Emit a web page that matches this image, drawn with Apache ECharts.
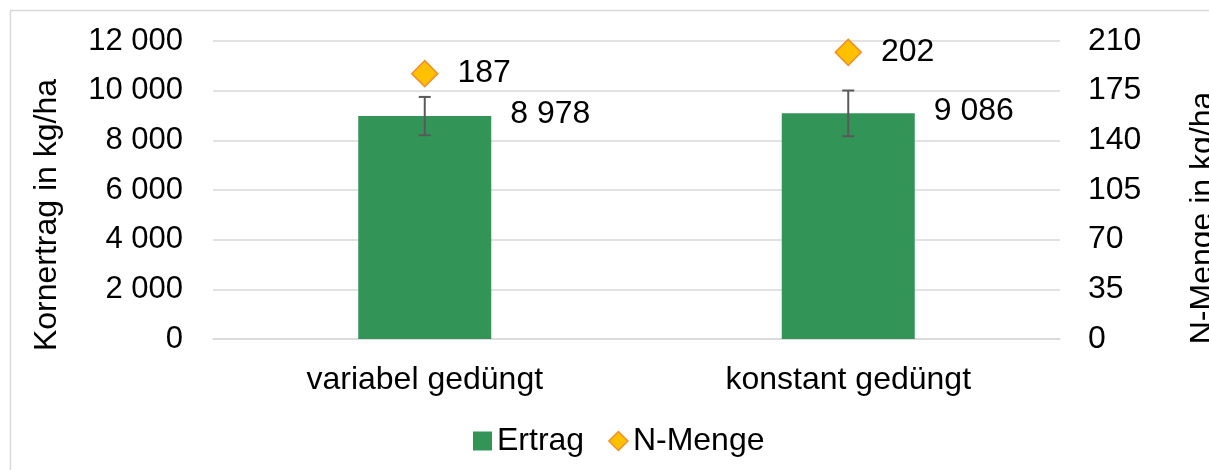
<!DOCTYPE html>
<html>
<head>
    <meta charset="utf-8">
    <title>Kornertrag</title>
    <script type="text/javascript" src="https://cdn.jsdelivr.net/npm/echarts@6/dist/echarts.min.js"></script>
    <style>
        html, body { margin: 0; padding: 0; background: #fff; }
    </style>
</head>
<body>
<div id="bar" style="width:1209px;height:470px;"></div>

<script type="text/javascript">
    // Daten
    var categories = ['variabel gedüngt', 'konstant gedüngt'];
    var ertrag = [8978, 9086];          // Kornertrag in kg/ha
    var ertragFehler = [770, 920];      // Fehlerbalken +/-
    var nMenge = [187, 202];            // N-Menge in kg/ha

    var schrift = '"Liberation Sans", Arial, sans-serif';

    // 8978 -> "8 978"
    function tausender(v) {
        return String(v).replace(/\B(?=(\d{3})+(?!\d))/g, ' ');
    }

    var fehlerDaten = [];
    for (var i = 0; i < categories.length; i++) {
        fehlerDaten.push([i, ertrag[i], ertragFehler[i]]);
    }

    var myChart = echarts.init(document.getElementById('bar'));

    var option = {
        backgroundColor: '#fff',
        textStyle: { fontFamily: schrift },
        graphic: [{
            type: 'rect',
            shape: { x: 10.5, y: 10.5, width: 1300, height: 600 },
            style: { fill: 'none', stroke: '#d9d9d9', lineWidth: 1.5 },
            silent: true
        }],
        legend: {
            left: 468,
            top: 420,
            itemWidth: 19,
            itemHeight: 19,
            itemGap: 24,
            textStyle: { fontSize: 32, color: '#000', fontFamily: schrift },
            data: [
                { name: 'Ertrag', icon: 'rect' },
                { name: 'N-Menge', icon: 'diamond', itemStyle: { color: '#ffc000', borderColor: '#f0902a', borderWidth: 1.5 } }
            ]
        },
        grid: {
            left: 213,
            right: 149,
            top: 41,
            bottom: 131,
            containLabel: false,
            outerBoundsMode: 'none'
        },
        xAxis: {
            type: 'category',
            data: categories,
            axisTick: { show: false },
            axisLine: { lineStyle: { color: '#d9d9d9', width: 1.5 } },
            axisLabel: { fontSize: 32, color: '#000', margin: 25, fontFamily: schrift }
        },
        yAxis: [
            {
                type: 'value',
                min: 0,
                max: 12000,
                interval: 2000,
                name: 'Kornertrag in kg/ha',
                nameLocation: 'middle',
                nameGap: 150,
                nameTextStyle: { fontSize: 32, color: '#000', fontFamily: schrift, padding: [0, 50, 0, 0] },
                axisLine: { show: false },
                axisTick: { show: false },
                axisLabel: { fontSize: 31, color: '#000', margin: 30, formatter: tausender, fontFamily: schrift },
                splitLine: { lineStyle: { color: '#d9d9d9', width: 1.5 } }
            },
            {
                type: 'value',
                min: 0,
                max: 210,
                interval: 35,
                name: 'N-Menge in kg/ha',
                nameLocation: 'middle',
                nameGap: 127,
                nameTextStyle: { fontSize: 32, color: '#000', fontFamily: schrift, padding: [0, 56, 0, 0] },
                axisLine: { show: false },
                axisTick: { show: false },
                axisLabel: { fontSize: 32, color: '#000', margin: 28, fontFamily: schrift },
                splitLine: { show: false }
            }
        ],
        series: [
            {
                name: 'Ertrag',
                type: 'bar',
                yAxisIndex: 0,
                barWidth: 133,
                itemStyle: { color: '#339458' },
                label: {
                    show: true,
                    position: ['100%', 0],
                    offset: [19, -2],
                    align: 'left',
                    verticalAlign: 'middle',
                    fontSize: 32,
                    color: '#000',
                    fontFamily: schrift,
                    formatter: function (p) { return tausender(p.value); }
                },
                data: ertrag,
                z: 2
            },
            {
                name: 'Fehler',
                type: 'custom',
                yAxisIndex: 0,
                data: fehlerDaten,
                z: 3,
                renderItem: function (params, api) {
                    var x = api.value(0);
                    var oben = api.coord([x, api.value(1) + api.value(2)]);
                    var unten = api.coord([x, api.value(1) - api.value(2)]);
                    var halb = 6;
                    var stil = { stroke: '#595959', lineWidth: 2 };
                    return {
                        type: 'group',
                        children: [
                            { type: 'line', shape: { x1: oben[0], y1: oben[1], x2: unten[0], y2: unten[1] }, style: stil },
                            { type: 'line', shape: { x1: oben[0] - halb, y1: oben[1], x2: oben[0] + halb, y2: oben[1] }, style: stil },
                            { type: 'line', shape: { x1: unten[0] - halb, y1: unten[1], x2: unten[0] + halb, y2: unten[1] }, style: stil }
                        ]
                    };
                }
            },
            {
                name: 'N-Menge',
                type: 'line',
                yAxisIndex: 1,
                data: nMenge,
                symbol: 'diamond',
                symbolSize: 26,
                lineStyle: { width: 0, opacity: 0 },
                itemStyle: { color: '#ffc000', borderColor: '#f0902a', borderWidth: 1.5 },
                label: {
                    show: true,
                    position: 'right',
                    distance: 19,
                    fontSize: 32,
                    color: '#000',
                    fontFamily: schrift
                },
                z: 4
            }
        ]
    };
    myChart.setOption(option);
</script>
</body>
</html>
